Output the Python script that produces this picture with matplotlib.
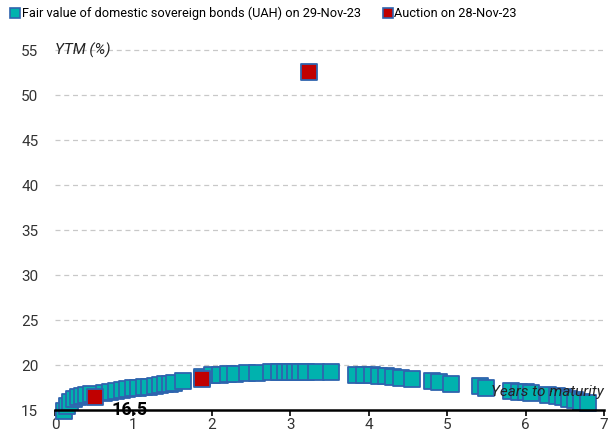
import matplotlib.pyplot as plt
from matplotlib.lines import Line2D

plt.rcParams['font.family'] = ['Roboto', 'DejaVu Sans']

# fair value curve (UAH domestic sovereign bonds), 29-Nov-23
fv_years = [0.12, 0.15, 0.19, 0.24, 0.29, 0.35, 0.40, 0.46, 0.62, 0.70, 0.78,
            0.85, 0.92, 1.00, 1.06, 1.13, 1.20, 1.28, 1.34, 1.40, 1.46, 1.52,
            1.63, 1.88, 2.00, 2.10, 2.20, 2.30, 2.45, 2.58, 2.75, 2.85, 2.93,
            3.00, 3.06, 3.12, 3.20, 3.33, 3.52, 3.84, 3.94, 4.04, 4.13, 4.22,
            4.31, 4.41, 4.55, 4.81, 4.90, 5.05, 5.42, 5.50, 5.82, 5.92, 6.00,
            6.07, 6.28, 6.40, 6.48, 6.56, 6.63, 6.71, 6.80]
fv_ytm = [14.9, 15.5, 15.9, 16.2, 16.4, 16.6, 16.7, 16.8, 16.95, 17.0, 17.1,
          17.2, 17.3, 17.4, 17.5, 17.55, 17.6, 17.7, 17.8, 17.85, 17.9, 18.0,
          18.2, 18.7, 18.85, 18.9, 19.0, 19.05, 19.1, 19.15, 19.2, 19.2, 19.25,
          19.25, 19.25, 19.25, 19.2, 19.2, 19.2, 18.95, 18.9, 18.85, 18.8, 18.75,
          18.65, 18.55, 18.4, 18.2, 18.1, 17.95, 17.7, 17.4, 17.15, 17.05, 17.0,
          16.9, 16.7, 16.55, 16.4, 16.25, 16.1, 15.95, 15.8]

# primary auction, 28-Nov-23
auc_years = [0.51, 1.87, 3.24]
auc_ytm = [16.4, 18.4, 52.6]

yticks = [15, 20, 25, 30, 35, 40, 45, 50, 55]
xticks = [0, 1, 2, 3, 4, 5, 6, 7]

teal = '#00B2AE'
edge = '#2F64AE'
red = '#C00000'

fig = plt.figure(figsize=(6.09, 4.37), dpi=100)
ax = fig.add_axes([55 / 609, 0.0389, 549 / 609, 0.8527])

ax.scatter(fv_years, fv_ytm, marker='s', s=140, facecolor=teal,
           edgecolor=edge, linewidth=1.3, zorder=3)
ax.scatter(auc_years, auc_ytm, marker='s', s=140, facecolor=red,
           edgecolor=edge, linewidth=1.3, zorder=4)

ax.set_xlim(0, 7)
ax.set_ylim(13.9, 55.3)
ax.set_xticks(xticks)
ax.set_yticks(yticks)
ax.tick_params(axis='both', labelsize=11, colors='#333333')
ax.tick_params(axis='y', length=0, pad=12)
ax.tick_params(axis='x', direction='out', length=4, width=1.2, color='black', pad=2)

for y in yticks[1:]:
    ax.axhline(y, color='#C8C8C8', linestyle=(0, (4, 3)), linewidth=0.9, zorder=1)

for s in ['left', 'right', 'top']:
    ax.spines[s].set_visible(False)
ax.spines['bottom'].set_position(('data', 15))
ax.spines['bottom'].set_linewidth(1.8)
ax.spines['bottom'].set_zorder(5)

ax.text(0.0, 55, 'YTM (%)', style='italic', fontsize=11, va='center',
        ha='left', color='#222222')
ax.text(7.0, 17.0, 'Years to maturity', style='italic', fontsize=11,
        va='center', ha='right', color='#222222', zorder=6)
ax.text(0.95, 15.0, '16.5', fontweight='bold', fontsize=13, va='center',
        ha='center', color='black', zorder=6)

handles = [
    Line2D([], [], marker='s', linestyle='none', markersize=7,
           markerfacecolor=teal, markeredgecolor=edge, markeredgewidth=1.2),
    Line2D([], [], marker='s', linestyle='none', markersize=7,
           markerfacecolor=red, markeredgecolor=edge, markeredgewidth=1.2),
]
fig.legend(handles, ['Fair value of domestic sovereign bonds (UAH) on 29-Nov-23',
                     'Auction on 28-Nov-23'],
           loc='upper left', bbox_to_anchor=(0.0, 1.005), ncol=2, frameon=False,
           fontsize=9.2, handletextpad=0.0, columnspacing=1.6,
           handlelength=1.0, borderaxespad=0.3)

fig.savefig('out.png', dpi=100)
